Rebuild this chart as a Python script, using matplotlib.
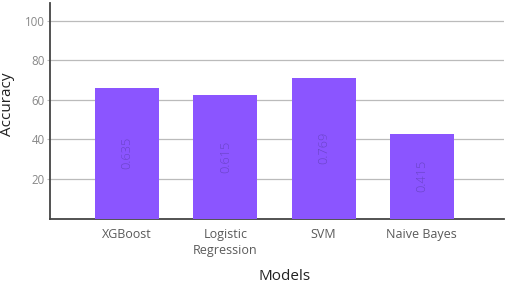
import matplotlib
matplotlib.use("Agg")
import matplotlib.pyplot as plt

models = ["XGBoost", "Logistic\nRegression", "SVM", "Naive Bayes"]
bar_heights = [66, 62.7, 71.3, 42.9]
bar_labels = ["0.635", "0.615", "0.769", "0.415"]
yticks = [20, 40, 60, 80, 100]

plt.rcParams['font.family'] = ['Open Sans', 'DejaVu Sans']

fig = plt.figure(figsize=(5.08, 2.85), dpi=100)
ax = fig.add_axes([50/508, 1-218.5/285, 454/508, 215.5/285])

x = list(range(len(models)))
bars = ax.bar(x, bar_heights, width=0.65, color='#8b55ff', zorder=3)
for xi, h, lab in zip(x, bar_heights, bar_labels):
    ax.text(xi, h/2, lab, rotation=90, ha='center', va='center',
            fontsize=9.2, color='#6a44c8', fontweight='light', zorder=4)

ax.set_xlim(-0.786, 3.837)
ax.set_ylim(0, 109)
ax.set_yticks(yticks)
ax.set_xticks(x)
ax.set_xticklabels(models, fontsize=9, color='#555555', linespacing=1.25)
ax.tick_params(axis='y', labelsize=8.3, length=2, width=0.8, pad=2, color='#bbbbbb')
ax.tick_params(axis='x', length=0, pad=7)
for lbl in ax.get_yticklabels():
    lbl.set_color('#888888')
for lbl in ax.get_xticklabels():
    lbl.set_color('#5a5a5a')
ax.grid(axis='y', color='#bbbbbb', linewidth=0.9, zorder=0)
ax.set_axisbelow(True)
for s in ['top', 'right']:
    ax.spines[s].set_visible(False)
for s in ['left', 'bottom']:
    ax.spines[s].set_color('#444444')
    ax.spines[s].set_linewidth(1.3)

fig.text(8/508, 1-104.5/285, "Accuracy", rotation=90, ha='center', va='center', fontsize=11, color='#222222')
fig.text(285/508, 1-276/285, "Models", ha='center', va='center', fontsize=11, color='#222222')

fig.savefig("out.png", dpi=100)
